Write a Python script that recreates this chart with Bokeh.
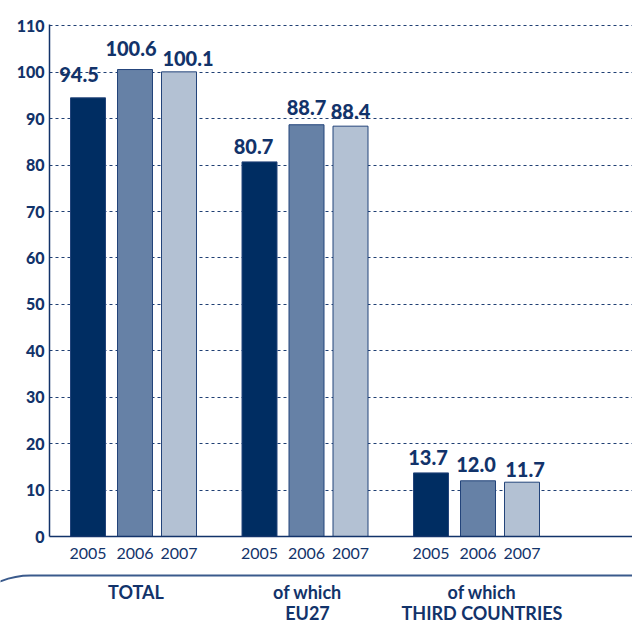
from bokeh.plotting import figure
from bokeh.layouts import column
from bokeh.models import Range1d, FixedTicker, ColumnDataSource, BoxAnnotation
from bokeh.core.properties import value
from bokeh.embed import file_html
from bokeh.resources import INLINE

# ---- data ----
groups = ["TOTAL", "of which\nEU27", "of which\nTHIRD COUNTRIES"]
years = ["2005", "2006", "2007"]
values_2005 = [94.5, 80.7, 13.7]
values_2006 = [100.6, 88.7, 12.0]
values_2007 = [100.1, 88.4, 11.7]
y_ticks = [0, 10, 20, 30, 40, 50, 60, 70, 80, 90, 100, 110]

# ---- style / layout ----
NAVY = "#12336a"
COLORS = ["#002d62", "#6681a6", "#b3c1d3"]
FONT = "Lato"
HEAVY = "Lato Black"
GROUP_STEP = 171.5
GROUP_CENTER0 = 85.5
SLOT_OFFSETS = [-47, 0, 44]
BAR_W = 35
PX_PER_UNIT = 512 / 110.3
# per-label nudges (pixels) to mimic the reference label placement
label_dx = [-9, -4, 9, -6, 0, 0, -3, -2, 3]
label_gap = [23, 21, 13, 15, 17, 15, 15, 16, 13]
group_dx = [1, 1, 4]

series = [values_2005, values_2006, values_2007]
xs, tops, cols, yrs, txt, lx, ly = [], [], [], [], [], [], []
i = 0
for g in range(len(groups)):
    for s, vals in enumerate(series):
        x = GROUP_CENTER0 + g * GROUP_STEP + SLOT_OFFSETS[s]
        xs.append(x)
        tops.append(vals[g])
        cols.append(COLORS[s])
        yrs.append(years[s])
        txt.append(f"{vals[g]:.1f}")
        lx.append(x + label_dx[i])
        ly.append(vals[g] + label_gap[i] / PX_PER_UNIT)
        i += 1

src = ColumnDataSource(dict(x=xs, top=tops, color=cols, label=txt, lx=lx, ly=ly))

p = figure(width=632, height=568, output_backend="svg", toolbar_location=None,
           x_range=Range1d(0, 583), y_range=Range1d(0, 110.3),
           min_border_left=49, min_border_right=0, min_border_top=24,
           min_border_bottom=32)
p.frame_align = False
p.outline_line_color = None
p.background_fill_color = "white"
p.border_fill_color = "white"

p.vbar(x="x", top="top", width=BAR_W, bottom=0, source=src,
       fill_color="color", line_color="#23447a", line_width=1)

p.text(x="lx", y="ly", text="label", source=src,
       text_align="center", text_baseline="alphabetic",
       text_font=value(HEAVY), text_font_size="20px", text_color=NAVY)

# y axis
ya = p.yaxis[0]
ya.ticker = FixedTicker(ticks=y_ticks)
ya.axis_line_color = NAVY
ya.axis_line_width = 1.5
ya.major_tick_line_color = None
ya.minor_tick_line_color = None
ya.major_tick_out = 0
ya.major_tick_in = 0
ya.major_label_standoff = 5
ya.major_label_text_font = HEAVY
ya.major_label_text_font_size = "16px"
ya.major_label_text_color = NAVY

# x axis: year labels at bar positions
xa = p.xaxis[0]
xa.ticker = FixedTicker(ticks=xs)
xa.major_label_overrides = {x: y for x, y in zip(xs, yrs)}
xa.axis_line_color = NAVY
xa.axis_line_width = 1.5
xa.major_tick_line_color = None
xa.minor_tick_line_color = None
xa.major_tick_out = 0
xa.major_tick_in = 0
xa.major_label_standoff = 11
xa.major_label_text_font = FONT
xa.major_label_text_font_size = "16px"
xa.major_label_text_color = NAVY

p.xgrid.grid_line_color = None
p.ygrid.ticker = FixedTicker(ticks=y_ticks)
p.ygrid.grid_line_color = "#1f3f73"
p.ygrid.grid_line_dash = "3 3"
p.ygrid.grid_line_width = 1

# ---- bottom strip: rounded separator and group names ----
p2 = figure(width=632, height=56, output_backend="svg", toolbar_location=None,
            x_range=Range1d(-49, 583), y_range=Range1d(0, 56),
            x_axis_type=None, y_axis_type=None,
            min_border_left=0, min_border_right=0, min_border_top=0,
            min_border_bottom=0)
p2.frame_align = False
p2.outline_line_color = None
p2.xgrid.grid_line_color = None
p2.ygrid.grid_line_color = None
p2.background_fill_color = "white"
p2.border_fill_color = "white"

sep = BoxAnnotation(left=-99, right=700, top=49, bottom=-300,
                    fill_color=None, fill_alpha=0, line_color="#3a5a8c",
                    line_alpha=1.0, line_width=2, border_radius=80)
p2.add_layout(sep)

gsrc = ColumnDataSource(dict(
    x=[GROUP_CENTER0 + g * GROUP_STEP + group_dx[g] for g in range(len(groups))],
    name=groups))
p2.text(x="x", y=44, text="name", source=gsrc, text_align="center",
        text_baseline="top", text_font=value(FONT), text_font_style="bold",
        text_font_size="18px", text_color=NAVY, text_line_height=0.98)

layout = column(p, p2, spacing=0)
open("out.html", "w").write(file_html(layout, INLINE))
